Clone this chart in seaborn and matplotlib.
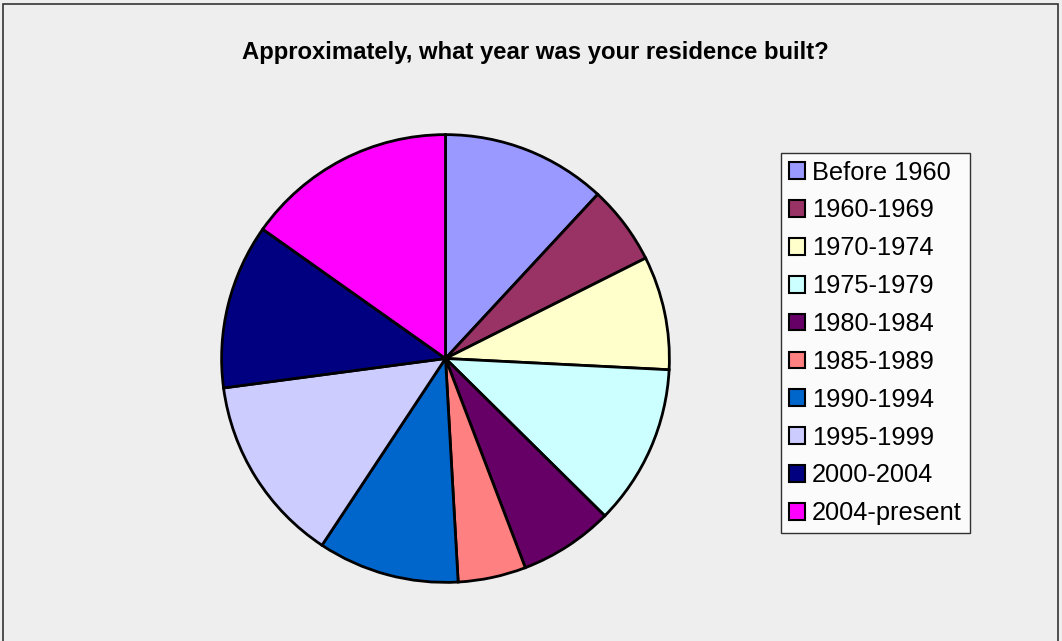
import matplotlib
matplotlib.use("Agg")
import matplotlib.pyplot as plt
from matplotlib.patches import Rectangle, Patch
import seaborn as sns

# Survey responses: share of residences by construction period (%)
periods = ["Before 1960", "1960-1969", "1970-1974", "1975-1979", "1980-1984",
           "1985-1989", "1990-1994", "1995-1999", "2000-2004", "2004-present"]
shares = [11.9, 5.7, 8.2, 11.6, 6.8, 4.9, 10.2, 13.6, 11.9, 15.2]
colors = ["#9999FF", "#993366", "#FFFFCC", "#CCFFFF", "#660066",
          "#FF8080", "#0066CC", "#CCCCFF", "#000080", "#FF00FF"]

sns.set_theme(style="white")
palette = sns.color_palette(colors)
plt.rcParams["font.family"] = ["Liberation Sans", "DejaVu Sans"]
plt.rcParams["text.color"] = "black"

W, H = 1062, 641
fig = plt.figure(figsize=(W / 100, H / 100), dpi=100)
fig.patch.set_facecolor("#EEEEEE")

# outer chart border (bottom edge falls outside the canvas)
fig.patches.append(Rectangle((3 / W, -0.05), (W - 7) / W, 1.05 - 3.5 / H,
                             transform=fig.transFigure, fill=False,
                             edgecolor="#333333", linewidth=1.2))

cx, cy, r = 445.5, 358.5, 225
ax = fig.add_axes([(cx - r) / W, (H - cy - r) / H, 2 * r / W, 2 * r / H])
ax.pie(shares, colors=palette, startangle=90, counterclock=False,
       wedgeprops=dict(edgecolor="black", linewidth=2.0))
ax.set_xlim(-1.005, 1.005)
ax.set_ylim(-1.005, 1.005)
ax.set_aspect("equal")
ax.axis("off")

fig.text(535 / W, 1 - 52 / H, "Approximately, what year was your residence built?",
         ha="center", va="center", fontsize=17.2, fontweight="bold",
         color="black")

handles = [Patch(facecolor=c, edgecolor="black", linewidth=1.5) for c in palette]
leg = fig.legend(handles, periods, loc="upper left",
                 bbox_to_anchor=(781 / W, 1 - 153 / H),
                 bbox_transform=fig.transFigure,
                 fontsize=18.3, frameon=True, fancybox=False,
                 handlelength=0.64, handleheight=0.64, handletextpad=0.28,
                 labelspacing=0.545, borderpad=0.3, borderaxespad=0,
                 labelcolor="black")
leg.get_frame().set_edgecolor("black")
leg.get_frame().set_linewidth(1.0)
leg.get_frame().set_facecolor("white")

fig.savefig("out.png", dpi=100, facecolor=fig.get_facecolor())
